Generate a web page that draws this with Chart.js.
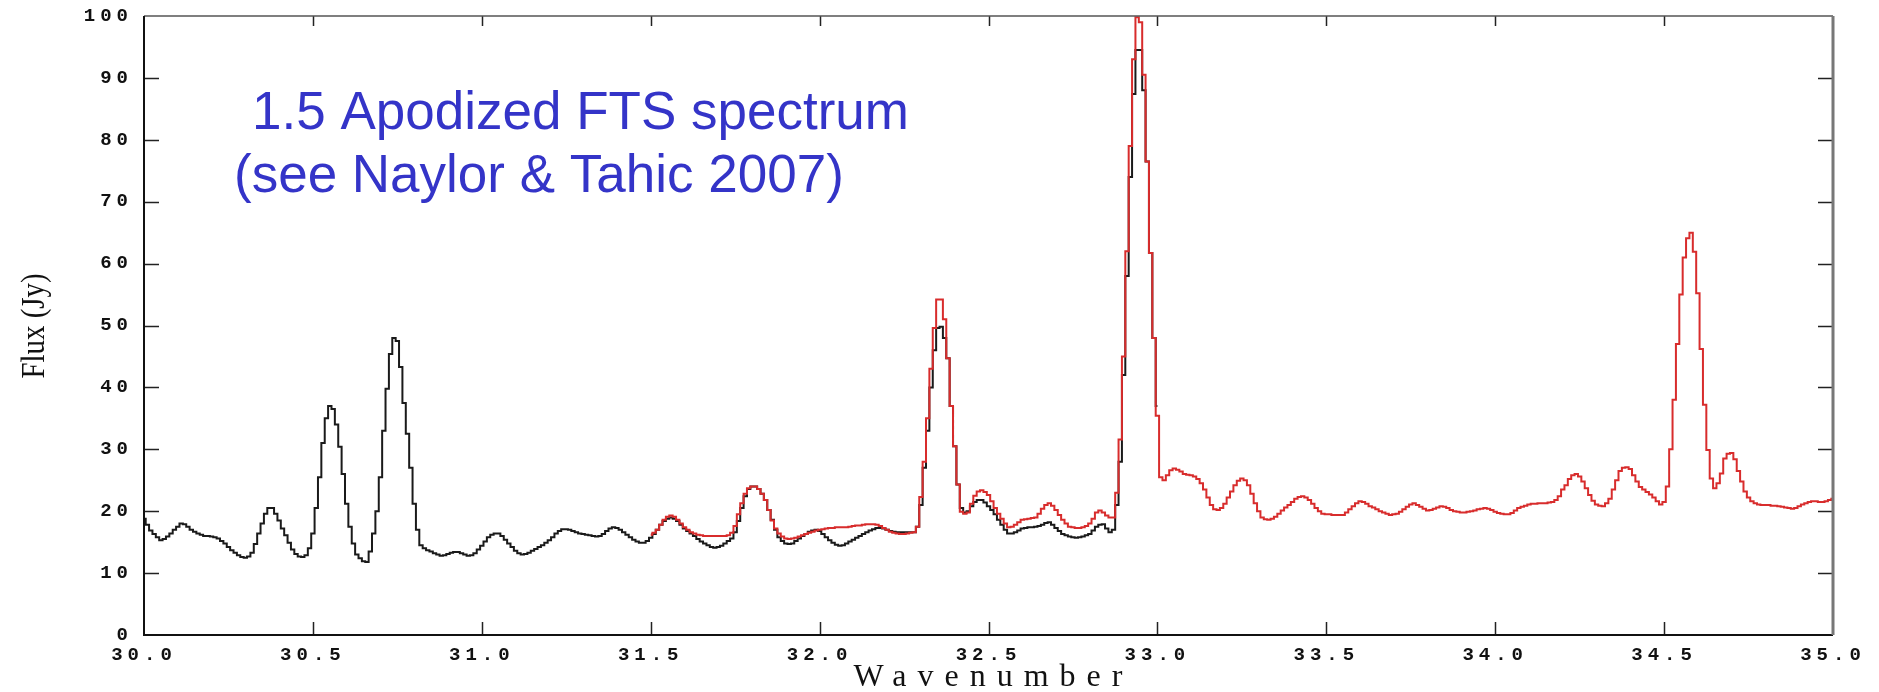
<!DOCTYPE html>
<html>
<head>
<meta charset="utf-8">
<title>Flux vs Wavenumber</title>
<script src="https://cdn.jsdelivr.net/npm/chart.js@4/dist/chart.umd.min.js"></script>
<style>
  html, body { margin: 0; padding: 0; background: #ffffff; }
  #wrap { width: 1879px; height: 692px; position: relative; }
</style>
</head>
<body>
<div id="wrap"><canvas id="grafico"></canvas></div>
<script>
// spectra are sampled every 0.01 in wavenumber
const paso = 0.01;

// black spectrum, 30.00 .. 33.00
const blackStart = 30.00;
const blackFlux = [
  18.8, 17.8, 16.9, 16.3, 15.8, 15.3, 15.5, 15.9, 16.4, 17.0, // 30.00
  17.5, 18.0, 17.9, 17.5, 17.0, 16.7, 16.4, 16.2, 16.0, 16.0, // 30.10
  15.9, 15.8, 15.6, 15.2, 14.8, 14.2, 13.7, 13.3, 12.9, 12.6, // 30.20
  12.5, 12.7, 13.3, 14.7, 16.4, 18.0, 19.6, 20.5, 20.5, 19.6, // 30.30
  18.5, 17.2, 16.1, 14.9, 13.8, 13.1, 12.7, 12.6, 12.9, 14.0, // 30.40
  16.4, 20.5, 25.5, 31.0, 35.0, 37.0, 36.5, 34.0, 30.4, 26.0, // 30.50
  21.2, 17.5, 14.8, 13.0, 12.4, 11.9, 11.8, 13.5, 16.4, 20.0, // 30.60
  25.5, 33.0, 39.8, 45.4, 48.0, 47.5, 43.3, 37.5, 32.5, 27.0, // 30.70
  21.2, 17.0, 14.5, 14.0, 13.7, 13.5, 13.2, 13.0, 12.8, 12.9, // 30.80
  13.1, 13.3, 13.4, 13.4, 13.2, 13.0, 12.8, 12.9, 13.2, 13.8, // 30.90
  14.4, 15.1, 15.8, 16.2, 16.4, 16.4, 16.0, 15.4, 14.8, 14.2, // 31.00
  13.6, 13.2, 13.0, 13.1, 13.3, 13.6, 13.9, 14.2, 14.5, 14.9, // 31.10
  15.3, 15.8, 16.4, 16.8, 17.1, 17.1, 17.0, 16.8, 16.6, 16.4, // 31.20
  16.3, 16.2, 16.1, 16.0, 15.9, 16.0, 16.3, 16.8, 17.2, 17.4, // 31.30
  17.3, 17.0, 16.6, 16.2, 15.8, 15.4, 15.1, 14.9, 14.9, 15.2, // 31.40
  15.7, 16.3, 17.0, 17.8, 18.4, 18.8, 19.0, 18.8, 18.4, 17.8, // 31.50
  17.2, 16.8, 16.4, 16.0, 15.5, 15.1, 14.8, 14.5, 14.2, 14.1, // 31.60
  14.2, 14.4, 14.8, 15.2, 15.6, 16.6, 18.4, 20.5, 22.4, 23.6, // 31.70
  24.0, 24.0, 23.6, 22.8, 21.8, 20.2, 18.6, 17.0, 15.8, 15.2, // 31.80
  14.8, 14.7, 14.8, 15.2, 15.6, 16.0, 16.3, 16.7, 16.9, 17.0, // 31.90
  16.8, 16.3, 15.8, 15.3, 14.9, 14.6, 14.4, 14.5, 14.8, 15.1, // 32.00
  15.4, 15.7, 16.0, 16.3, 16.6, 16.9, 17.1, 17.3, 17.3, 17.2, // 32.10
  17.0, 16.8, 16.7, 16.6, 16.6, 16.6, 16.6, 16.6, 16.6, 17.5, // 32.20
  21.0, 27.0, 33.0, 40.0, 46.0, 49.6, 49.8, 48.0, 44.7, 37.0, // 32.30
  30.5, 24.3, 20.5, 19.8, 20.0, 20.8, 21.5, 21.8, 21.8, 21.4, // 32.40
  20.8, 20.2, 19.5, 18.6, 17.8, 17.0, 16.4, 16.4, 16.6, 16.9, // 32.50
  17.2, 17.3, 17.4, 17.4, 17.5, 17.6, 17.8, 18.1, 18.2, 17.8, // 32.60
  17.3, 16.8, 16.3, 16.1, 15.9, 15.8, 15.7, 15.8, 15.9, 16.1, // 32.70
  16.3, 16.9, 17.5, 17.8, 17.9, 17.2, 16.6, 17.0, 21.0, 28.0, // 32.80
  42.0, 58.0, 74.0, 87.4, 94.5, 94.5, 88.0, 76.5, 61.7, 48.0, // 32.90
  37.0                                                        // 33.00
];

// red spectrum, 31.50 .. 35.00
const redStart = 31.50;
const redFlux = [
  16.2, 16.5, 17.0, 17.8, 18.6, 19.1, 19.3, 19.1, 18.6, 18.0, // 31.50
  17.4, 17.0, 16.6, 16.4, 16.2, 16.1, 16.0, 16.0, 16.0, 16.0, // 31.60
  16.0, 16.0, 16.0, 16.1, 16.5, 17.6, 19.5, 21.3, 22.8, 23.7, // 31.70
  24.0, 24.0, 23.6, 22.8, 21.8, 20.2, 18.5, 17.2, 16.4, 15.9, // 31.80
  15.6, 15.5, 15.6, 15.7, 15.9, 16.1, 16.3, 16.5, 16.7, 16.9, // 31.90
  17.0, 17.1, 17.2, 17.3, 17.3, 17.4, 17.4, 17.4, 17.4, 17.5, // 32.00
  17.6, 17.7, 17.7, 17.8, 17.9, 17.9, 17.9, 17.8, 17.6, 17.3, // 32.10
  17.0, 16.7, 16.5, 16.4, 16.3, 16.3, 16.4, 16.5, 16.6, 17.5, // 32.20
  22.3, 28.0, 35.0, 43.0, 49.6, 54.2, 54.2, 51.0, 44.7, 37.0, // 32.30
  30.5, 24.3, 19.9, 19.6, 19.8, 21.2, 22.5, 23.2, 23.4, 23.1, // 32.40
  22.6, 21.6, 20.5, 19.6, 18.8, 18.0, 17.4, 17.5, 17.8, 18.2, // 32.50
  18.6, 18.7, 18.8, 18.9, 19.0, 19.6, 20.4, 21.0, 21.3, 20.9, // 32.60
  20.2, 19.4, 18.6, 18.0, 17.5, 17.4, 17.3, 17.3, 17.4, 17.6, // 32.70
  18.0, 18.8, 19.8, 20.1, 19.8, 19.3, 19.0, 19.0, 23.0, 31.6, // 32.80
  45.0, 62.0, 79.0, 93.0, 99.8, 99.0, 90.5, 76.5, 61.7, 48.0, // 32.90
  35.4, 25.5, 25.0, 25.8, 26.6, 26.9, 26.7, 26.4, 26.0, 25.9, // 33.00
  25.8, 25.6, 25.2, 24.5, 23.5, 22.2, 21.0, 20.3, 20.2, 20.5, // 33.10
  21.2, 22.2, 23.2, 24.2, 24.9, 25.3, 25.0, 24.2, 22.8, 21.3, // 33.20
  20.0, 19.0, 18.7, 18.6, 18.8, 19.1, 19.6, 20.1, 20.6, 21.0, // 33.30
  21.5, 22.0, 22.3, 22.4, 22.2, 21.8, 21.2, 20.5, 20.0, 19.6, // 33.40
  19.5, 19.5, 19.4, 19.4, 19.4, 19.4, 19.8, 20.3, 20.8, 21.3, // 33.50
  21.6, 21.5, 21.2, 20.8, 20.6, 20.3, 20.0, 19.8, 19.6, 19.4, // 33.60
  19.5, 19.6, 19.9, 20.3, 20.7, 21.1, 21.3, 21.0, 20.7, 20.4, // 33.70
  20.1, 20.2, 20.4, 20.6, 20.8, 20.7, 20.5, 20.2, 20.0, 19.9, // 33.80
  19.8, 19.8, 19.9, 20.0, 20.1, 20.3, 20.4, 20.5, 20.4, 20.2, // 33.90
  19.9, 19.7, 19.6, 19.5, 19.5, 19.7, 20.1, 20.5, 20.7, 20.9, // 34.00
  21.1, 21.2, 21.2, 21.3, 21.3, 21.3, 21.4, 21.5, 21.8, 22.4, // 34.10
  23.5, 24.2, 25.2, 25.8, 26.0, 25.6, 24.8, 23.7, 22.6, 21.7, // 34.20
  21.1, 20.9, 20.8, 21.3, 22.0, 23.5, 25.0, 26.5, 27.0, 27.1, // 34.30
  26.8, 25.8, 24.8, 23.9, 23.5, 23.1, 22.7, 22.2, 21.6, 21.1, // 34.40
  21.5, 24.0, 30.0, 38.0, 47.0, 55.0, 61.0, 64.1, 65.0, 61.9, // 34.50
  55.2, 46.2, 37.2, 29.9, 25.3, 23.7, 24.5, 26.1, 28.5, 29.3, // 34.60
  29.4, 28.4, 26.5, 24.8, 23.2, 22.2, 21.6, 21.3, 21.1, 21.0, // 34.70
  21.0, 21.0, 20.9, 20.9, 20.8, 20.7, 20.6, 20.5, 20.4, 20.5, // 34.80
  20.8, 21.1, 21.3, 21.5, 21.6, 21.6, 21.5, 21.5, 21.6, 21.8, // 34.90
  22.0                                                        // 35.00
];

const xTicks = [30.0, 30.5, 31.0, 31.5, 32.0, 32.5, 33.0, 33.5, 34.0, 34.5, 35.0];
const yTicks = [0, 10, 20, 30, 40, 50, 60, 70, 80, 90, 100];
const xTitle = 'Wavenumber';
const yTitle = 'Flux (Jy)';
const notaLineas = ['1.5 Apodized FTS spectrum', '(see Naylor & Tahic 2007)'];

const puntos = (inicio, ys) => ys.map((y, i) => ({ x: +(inicio + i * paso).toFixed(2), y: y }));

// frame, inward ticks, titles and the note
const marco = {
  id: 'marco',
  beforeDraw(chart) {
    chart.ctx.letterSpacing = '5px';
  },
  beforeDatasetsDraw(chart) {
    const ctx = chart.ctx;
    ctx.letterSpacing = '0px';
    const a = chart.chartArea;
    const sx = chart.scales.x, sy = chart.scales.y;
    ctx.save();
    ctx.strokeStyle = '#222';
    ctx.lineWidth = 1.5;
    ctx.beginPath();
    yTicks.forEach(v => {
      if (v === 0 || v === 100) return;
      const y = Math.round(sy.getPixelForValue(v)) + 0.5;
      ctx.moveTo(a.left, y); ctx.lineTo(a.left + 15, y);
      ctx.moveTo(a.right, y); ctx.lineTo(a.right - 15, y);
    });
    xTicks.forEach(v => {
      if (v === 30 || v === 35) return;
      const x = Math.round(sx.getPixelForValue(v)) + 0.5;
      ctx.moveTo(x, a.bottom); ctx.lineTo(x, a.bottom - 13);
      ctx.moveTo(x, a.top); ctx.lineTo(x, a.top + 10);
    });
    ctx.stroke();
    ctx.restore();
  },
  afterDraw(chart) {
    const ctx = chart.ctx;
    const a = chart.chartArea;
    ctx.save();
    ctx.letterSpacing = '0px';
    // box
    ctx.strokeStyle = '#555';
    ctx.lineWidth = 1.5;
    ctx.beginPath();
    ctx.moveTo(a.left, a.top); ctx.lineTo(a.right, a.top);
    ctx.stroke();
    ctx.strokeStyle = '#111';
    ctx.lineWidth = 2;
    ctx.beginPath();
    ctx.moveTo(a.left, a.top); ctx.lineTo(a.left, a.bottom); ctx.lineTo(a.right, a.bottom);
    ctx.stroke();
    ctx.strokeStyle = '#777';
    ctx.lineWidth = 3;
    ctx.beginPath();
    ctx.moveTo(a.right, a.top); ctx.lineTo(a.right, a.bottom);
    ctx.stroke();

    // axis titles
    ctx.fillStyle = '#111';
    ctx.font = '32px "Liberation Serif"';
    ctx.textAlign = 'center';
    ctx.textBaseline = 'alphabetic';
    ctx.letterSpacing = '11px';
    ctx.fillText(xTitle, (a.left + a.right) / 2 + 5, 686);
    ctx.letterSpacing = '0px';
    ctx.translate(44, 326);
    ctx.rotate(-Math.PI / 2);
    ctx.scale(0.85, 1);
    ctx.font = '34px "Liberation Serif"';
    ctx.fillText(yTitle, 0, 0);
    ctx.restore();

    // note
    ctx.save();
    ctx.fillStyle = '#3434c8';
    ctx.font = '53px "Liberation Sans"';
    ctx.textAlign = 'left';
    ctx.textBaseline = 'alphabetic';
    ctx.fillText(notaLineas[0], 252, 129);
    ctx.fillText(notaLineas[1], 234, 192);
    ctx.restore();
  }
};

const tickFont = { family: '"Liberation Mono", monospace', size: 19, weight: 'bold' };

new Chart(document.getElementById('grafico'), {
  type: 'line',
  data: {
    datasets: [
      {
        label: 'red',
        data: puntos(redStart, redFlux),
        borderColor: '#d82c2c',
        borderWidth: 2,
        pointRadius: 0,
        stepped: 'middle',
        fill: false
      },
      {
        label: 'black',
        data: puntos(blackStart, blackFlux),
        borderColor: '#1a1a1a',
        borderWidth: 2,
        pointRadius: 0,
        stepped: 'middle',
        fill: false
      }
    ]
  },
  options: {
    responsive: true,
    maintainAspectRatio: false,
    animation: false,
    layout: { padding: { left: 0, right: 46, top: 16, bottom: 0 } },
    plugins: {
      legend: { display: false },
      tooltip: { enabled: false }
    },
    scales: {
      x: {
        type: 'linear',
        min: 30,
        max: 35,
        afterFit: s => { s.height = 57; s.paddingLeft = 0; s.paddingRight = 0; },
        afterBuildTicks: s => { s.ticks = xTicks.map(v => ({ value: v })); },
        grid: { display: false, drawTicks: false },
        border: { display: false },
        ticks: {
          padding: 9,
          color: '#111',
          font: tickFont,
          maxRotation: 0,
          autoSkip: false,
          callback: v => v.toFixed(1)
        }
      },
      y: {
        type: 'linear',
        min: 0,
        max: 100,
        afterFit: s => { s.width = 144; s.paddingTop = 0; s.paddingBottom = 0; },
        afterBuildTicks: s => { s.ticks = yTicks.map(v => ({ value: v })); },
        grid: { display: false, drawTicks: false },
        border: { display: false },
        ticks: {
          padding: 11,
          color: '#111',
          font: tickFont,
          autoSkip: false
        }
      }
    }
  },
  plugins: [marco]
});
</script>
</body>
</html>
